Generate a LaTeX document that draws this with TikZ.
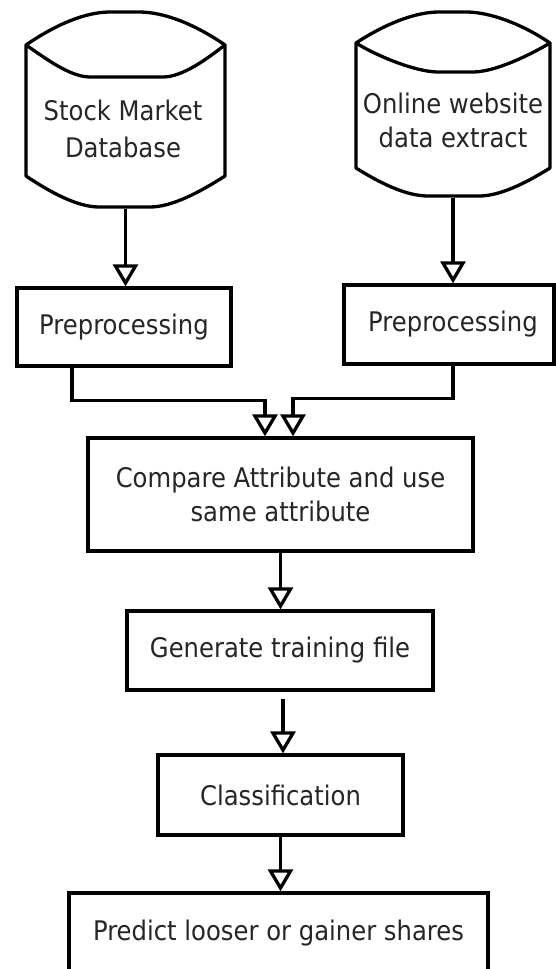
\documentclass[tikz,border=0pt]{standalone}
\usepackage{fontspec}
\setmainfont{DejaVu Sans}[FakeStretch=0.9]
\usetikzlibrary{arrows.meta}
\begin{document}
\begin{tikzpicture}[x=1pt,y=-1pt,line width=3.3pt,
  txt/.style={text=black!85,font=\fontsize{27}{34}\selectfont,align=center,inner sep=0pt},
  box/.style={txt,draw,rectangle},
  hull/.style={draw=none,rectangle,inner sep=0pt},
  arr/.style={-{Triangle[open,length=22pt,width=25pt]}}]
\useasboundingbox (0,0) rectangle (556,969);
\fill[white] (0,0) rectangle (556,969);
\clip (0,0) rectangle (556,969);

% cylinder 1
\draw[line join=round] (26,45) .. controls (55,25) and (85,12) .. (110,12) -- (139,12)
  .. controls (165,12) and (196,25) .. (225,45) -- (225,176)
  .. controls (200,192) and (172,207) .. (150,207) -- (99,207)
  .. controls (77,207) and (50,192) .. (26,176) -- cycle;
\draw (26,45) .. controls (45,58) and (70,77) .. (90,77) -- (163,77)
  .. controls (183,77) and (208,58) .. (225,45);
\node[hull,minimum width=199pt,minimum height=195pt] (db1) at (125.5,109.5) {};
\node[txt,font=\fontsize{27}{37}\selectfont] (db1t) at (123,128.5) {Stock Market\\Database};

% cylinder 2
\draw[line join=round] (356,43) .. controls (385,24) and (415,12) .. (439,12) -- (466,12)
  .. controls (490,12) and (522,24) .. (550,43) -- (550,168)
  .. controls (526,183) and (500,196) .. (479,196) -- (428,196)
  .. controls (406,196) and (380,183) .. (356,168) -- cycle;
\draw (356,43) .. controls (375,55) and (415,72) .. (438,72) -- (473,72)
  .. controls (495,72) and (530,55) .. (550,43);
\node[hull,minimum width=194pt,minimum height=184pt] (db2) at (453,104) {};
\node[txt] (db2t) at (453,120) {Online website\\data extract};

% boxes
\node[box,minimum width=214pt,minimum height=78pt] (pre1) at (124,327) {Preprocessing};
\node[box,minimum width=210pt,minimum height=79pt] (pre2) at (449,324.5) {\hspace*{8pt}Preprocessing};
\node[box,minimum width=385pt,minimum height=113pt] (cmp) at (280.5,494.5) {Compare Attribute and use\\same attribute};
\node[box,minimum width=306pt,minimum height=79pt] (gen) at (280,650.5) {Generate training file};
\node[box,minimum width=245pt,minimum height=80pt] (cls) at (280.5,795) {Classification};
\node[box,minimum width=419pt,minimum height=80pt] (pred) at (278.5,933) {Predict looser or gainer shares};

% connectors
\draw[arr] (db1.south) -- (db1.south |- pre1.north);
\draw[arr] (db2.south) -- (db2.south |- pre2.north);
\draw[arr] ([xshift=-52pt]pre1.south) |- ([xshift=-15.5pt,yshift=36pt]cmp.north) -- ([xshift=-15.5pt]cmp.north);
\draw[arr] ([xshift=4pt]pre2.south) |- ([xshift=12.5pt,yshift=38pt]cmp.north) -- ([xshift=12.5pt]cmp.north);
\draw[arr] (cmp.south) -- (cmp.south |- gen.north);
\draw[arr] ([xshift=3pt,yshift=-7pt]gen.south) -- ([xshift=3pt]gen.south |- cls.north);
\draw[arr] (cls.south) -- (cls.south |- pred.north);
\end{tikzpicture}
\end{document}
